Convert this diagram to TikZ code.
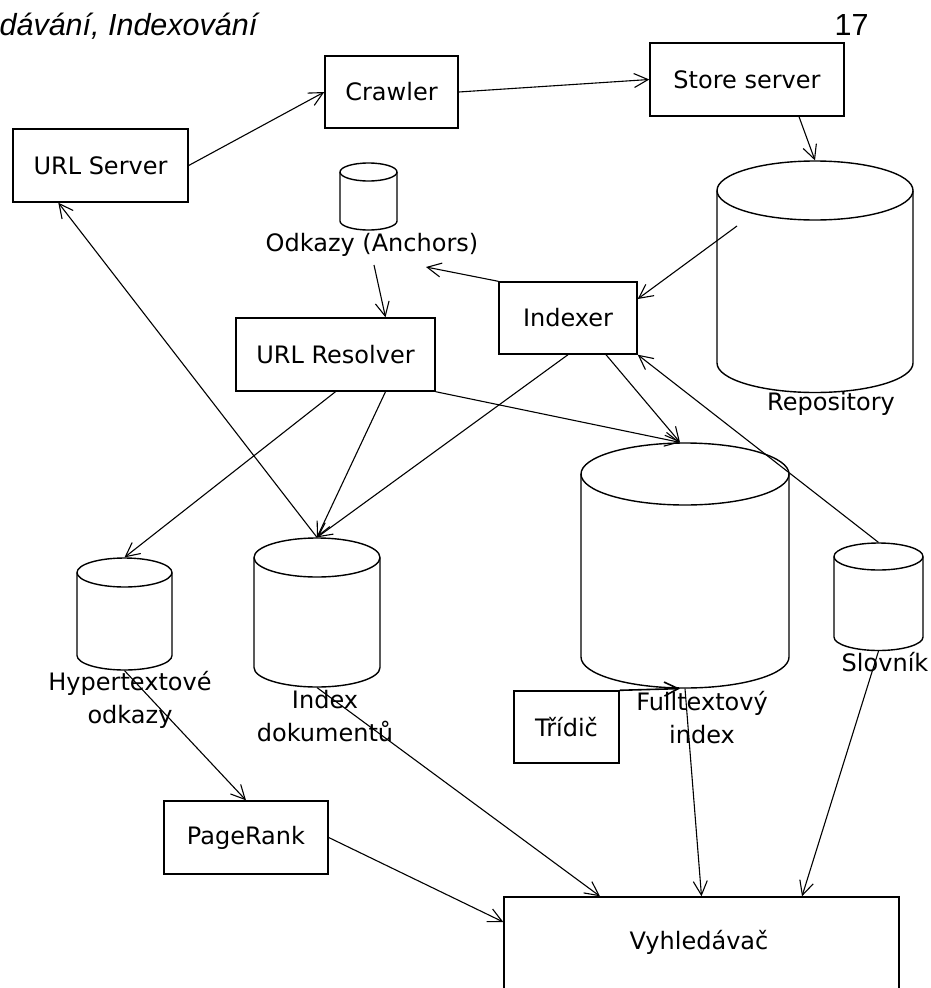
\documentclass[tikz,border=0pt]{standalone}
\usepackage{fontspec}
\setmainfont{DejaVu Sans}
\newfontfamily\hdrfont{Liberation Sans}
\usetikzlibrary{arrows.meta}
\newcommand\diagfont{\fontsize{24}{33}\selectfont}
\newcommand\mycyl[6]{% name, cx, ytop-centre, ybottom-centre, rx, ry
  \draw[line width=1.4pt] (#2-#5,#3) -- (#2-#5,#4) arc[start angle=180,end angle=360,x radius=#5pt,y radius=#6pt] -- (#2+#5,#3);
  \draw[line width=1.4pt] (#2,#3) ellipse[x radius=#5pt,y radius=#6pt];
  \node[inner sep=0pt, minimum width={2*#5*1pt}, minimum height={(#4-#3+2*#6)*1pt}] (#1) at (#2,{(#3+#4)/2}) {};
}
\begin{document}
\begin{tikzpicture}[x=1pt,y=-1pt, line width=1.2pt,
  box/.style={draw, rectangle, line width=1.4pt, inner sep=0pt, font=\diagfont},
  lbl/.style={inner sep=0pt, font=\diagfont, align=center},
  conn/.style={-{Straight Barb[length=14pt,width=14pt]}, line width=1.1pt}]
\clip (0,0) rectangle (930,988);

% header
\node[anchor=base west, inner sep=0pt, font=\hdrfont\itshape\fontsize{30.5}{36}\selectfont] (hdr) at (-1,35) {dávání, Indexování};
\node[anchor=base west, inner sep=0pt, font=\hdrfont\fontsize{30.5}{36}\selectfont] (pageno) at (834,35) {17};

% boxes
\node[box, minimum width=175pt, minimum height=73pt] (urlserver) at (100.5,165.5) {URL Server};
\node[box, minimum width=133pt, minimum height=72pt] (crawler) at (391.5,92) {Crawler};
\node[box, minimum width=194pt, minimum height=73pt] (store) at (747,79.5) {Store server};
\node[box, minimum width=138pt, minimum height=72pt] (indexer) at (568,318) {Indexer};
\node[box, minimum width=199pt, minimum height=73pt] (resolver) at (335.5,354.5) {URL Resolver};
\node[box, minimum width=105pt, minimum height=72pt] (tridic) at (566.5,727) {Třídič};
\node[box, minimum width=164pt, minimum height=73pt] (pagerank) at (246,837.5) {PageRank};
\node[box, minimum width=395pt, minimum height=106pt] (vyhled) at (701.5,950) {};
\node[lbl] (vyhledtxt) at (699,942) {Vyhledávač};

% cylinders
\mycyl{odkazy}{368.5}{172}{221}{28.5}{9}
\mycyl{repo}{815}{190.5}{363}{98}{29.5}
\mycyl{hyper}{124.5}{572.5}{655.5}{47.5}{14.5}
\mycyl{idx}{317}{557.5}{667.5}{63}{19.5}
\mycyl{full}{685}{474}{657}{104}{31}
\mycyl{slov}{878.5}{556.5}{637}{44.5}{13.5}

% labels
\node[lbl] (odkazylbl) at (372,245) {Odkazy (Anchors)};
\node[lbl] (repolbl) at (831,404) {Repository};
\node[lbl] (hyperlbl) at (130,700) {Hypertextové\\odkazy};
\node[lbl] (idxlbl) at (325,716) {Index\\dokumentů};
\node[lbl] (fulllbl) at (702,718) {Fulltextový\\index};
\node[lbl] (slovlbl) at (885,662) {Slovník};

% free ends
\coordinate (repo-in) at (737,226);
\coordinate (odkazy-in) at (426,267);
\coordinate (odkazy-out) at (374,265);

% connectors
\draw[conn] (urlserver.east) -- (crawler.west);
\draw[conn] (crawler.east) -- (store.west);
\draw[conn] ([xshift=52pt]store.south) -- (repo.north);
\draw[conn] (repo-in) -- ([yshift=19pt]indexer.east);
\draw[conn] (indexer.north west) -- (odkazy-in);
\draw[conn] (odkazy-out) -- ([xshift=50pt]resolver.north);
\draw[conn] (resolver.south) -- (hyper.north);
\draw[conn] ([xshift=50pt]resolver.south) -- (idx.north);
\draw[conn] (indexer.south) -- (idx.north);
\draw[conn] (idx.north) -- ([xshift=46pt]urlserver.south west);
\draw[conn] (resolver.south east) -- ([xshift=-5pt]full.north);
\draw[conn] ([xshift=38pt]indexer.south) -- ([xshift=-5pt]full.north);
\draw[conn] (slov.north) -- (indexer.south east);
\draw[conn, line width=1.6pt] (tridic.north east) -- ([xshift=-5pt]full.south);
\draw[conn] (hyper.south) -- (pagerank.north);
\draw[conn] (idx.south) -- ([xshift=-101.5pt]vyhled.north);
\draw[conn] (pagerank.east) -- ([yshift=28pt]vyhled.west);
\draw[conn] (full.south) -- (vyhled.north);
\draw[conn] (slov.south) -- ([xshift=100.5pt]vyhled.north);
\end{tikzpicture}
\end{document}
